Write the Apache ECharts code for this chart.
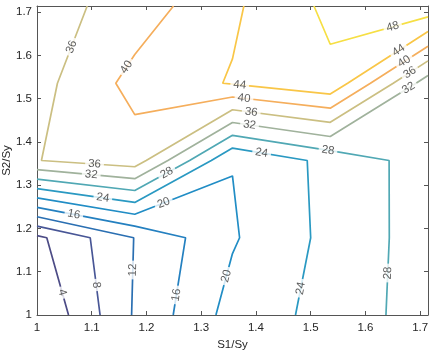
<!DOCTYPE html>
<html>
<head>
<meta charset="utf-8">
<script src="https://cdn.jsdelivr.net/npm/echarts@6/dist/echarts.min.js"></script>
<style>
html, body { margin: 0; background: #fff; }
#chart { width: 435px; height: 350px; }
</style>
</head>
<body>
<div id="chart"></div>
<script>
// grid nodes
const s1 = [1, 1.1786, 1.3571, 1.5357, 1.7143];
const s2 = [1, 1.1786, 1.3571, 1.5357, 1.7143];

// measured values, one row per S2/Sy node (bottom to top)
const zAtS2_100 = [0, 12.4, 21.55, 25.35, 30.0];
const zAtS2_118 = [3.1, 12.1, 19.6, 25.1, 29.9];
const zAtS2_136 = [35.9, 38.1, 20.1, 25.2, 29.85];
const zAtS2_154 = [34.6, 41.3, 44.3, 47.05, 29.9];
const zAtS2_171 = [34.1, 37.8, 43.35, 48.93, 50.96];

const levels = [4, 8, 12, 16, 20, 24, 28, 32, 36, 40, 44, 48];

const zRows = [zAtS2_100, zAtS2_118, zAtS2_136, zAtS2_154, zAtS2_171];

// colour of each contour level
const levelColors = {
	4: '#4d4c86', 8: '#485696', 12: '#2a6fb2', 16: '#2480c0',
	20: '#218dc5', 24: '#2a99c2', 28: '#50a8b4', 32: '#a0b29c',
	36: '#cbbf82', 40: '#f5ae5c', 44: '#f9c647', 48: '#f6df44',
};

// where the inline labels sit (level, near S1, near S2)
const labelSpots = [
	[36, 1.063, 1.620], [40, 1.166, 1.571], [44, 1.370, 1.528], [40, 1.378, 1.499],
	[36, 1.391, 1.466], [32, 1.388, 1.437], [28, 1.531, 1.376], [24, 1.410, 1.372],
	[48, 1.651, 1.661], [44, 1.662, 1.609], [40, 1.673, 1.582], [36, 1.684, 1.555],
	[32, 1.680, 1.522], [36, 1.105, 1.347], [32, 1.099, 1.324], [28, 1.239, 1.324],
	[24, 1.120, 1.268], [20, 1.233, 1.254], [16, 1.067, 1.230], [12, 1.175, 1.104],
	[8, 1.105, 1.069], [4, 1.041, 1.050], [16, 1.257, 1.046], [20, 1.349, 1.089],
	[24, 1.481, 1.062], [28, 1.642, 1.097],
];

// marching squares with linear interpolation, then chain segments into polylines
function contourLines(level) {
	const segs = [];
	const edgePoint = (i1, j1, i2, j2) => {
		const v1 = zRows[j1][i1], v2 = zRows[j2][i2];
		const t = (level - v1) / (v2 - v1);
		return [s1[i1] + (s1[i2] - s1[i1]) * t, s2[j1] + (s2[j2] - s2[j1]) * t];
	};
	for (let j = 0; j < s2.length - 1; j++) {
		for (let i = 0; i < s1.length - 1; i++) {
			const edges = [
				[i, j, i + 1, j, 'h' + i + '_' + j],
				[i + 1, j, i + 1, j + 1, 'v' + (i + 1) + '_' + j],
				[i, j + 1, i + 1, j + 1, 'h' + i + '_' + (j + 1)],
				[i, j, i, j + 1, 'v' + i + '_' + j],
			];
			const hits = edges
				.filter(e => (zRows[e[1]][e[0]] < level) !== (zRows[e[3]][e[2]] < level))
				.map(e => ({key: e[4], p: edgePoint(e[0], e[1], e[2], e[3])}));
			if (hits.length === 2) segs.push(hits);
			if (hits.length === 4) {
				segs.push([hits[0], hits[1]]);
				segs.push([hits[2], hits[3]]);
			}
		}
	}

	const byKey = {};
	segs.forEach((s, k) => s.forEach(h => (byKey[h.key] = byKey[h.key] || []).push(k)));
	const used = segs.map(() => false);
	const lines = [];
	while (true) {
		let start = -1, end = 0;
		for (let k = 0; k < segs.length && start < 0; k++) {
			if (used[k]) continue;
			for (let e = 0; e < 2; e++) {
				if (byKey[segs[k][e].key].length === 1) { start = k; end = e; break; }
			}
		}
		if (start < 0) start = used.indexOf(false);
		if (start < 0) break;
		used[start] = true;
		const line = [segs[start][end].p, segs[start][1 - end].p];
		let key = segs[start][1 - end].key;
		while (true) {
			const next = byKey[key].find(k => !used[k]);
			if (next === undefined) break;
			used[next] = true;
			const e = segs[next][0].key === key ? 1 : 0;
			line.push(segs[next][e].p);
			key = segs[next][e].key;
		}
		lines.push(line);
	}
	return lines;
}

const contours = {};
levels.forEach(lv => { contours[lv] = contourLines(lv); });

const font = 'Liberation Sans, Arial, Helvetica, sans-serif';
const axisColor = '#555';
const textColor = '#262626';

const commonAxis = {
	type: 'value',
	min: 1,
	max: 1.7143,
	interval: 0.1,
	axisLine: {show: true, onZero: false, lineStyle: {color: axisColor, width: 1}},
	axisTick: {show: true, inside: true, length: 4, lineStyle: {color: axisColor}},
	splitLine: {show: false},
};

const lineSeries = [];
levels.forEach(lv => {
	contours[lv].forEach(line => {
		lineSeries.push({
			type: 'line',
			data: line,
			showSymbol: false,
			symbol: 'none',
			silent: true,
			z: 2,
			lineStyle: {color: levelColors[lv], width: 1.7},
		});
	});
});

const chart = echarts.init(document.getElementById('chart'), null, {renderer: 'canvas'});
chart.setOption({
	animation: false,
	backgroundColor: '#fff',
	grid: {left: 37, right: 7, top: 6, bottom: 35, containLabel: false, outerBoundsMode: 'none'},
	xAxis: [
		{
			...commonAxis,
			position: 'bottom',
			name: 'S1/Sy',
			nameLocation: 'middle',
			nameGap: 24,
			nameMoveOverlap: false,
			nameTextStyle: {color: textColor, fontSize: 11.5, fontFamily: font},
			axisLabel: {color: textColor, fontSize: 11.5, fontFamily: font, margin: 7, showMaxLabel: false},
		},
		{...commonAxis, position: 'top', axisLabel: {show: false}},
	],
	yAxis: [
		{
			...commonAxis,
			position: 'left',
			name: 'S2/Sy',
			nameLocation: 'middle',
			nameGap: 24,
			nameMoveOverlap: false,
			nameTextStyle: {color: textColor, fontSize: 11.5, fontFamily: font},
			axisLabel: {color: textColor, fontSize: 11.5, fontFamily: font, margin: 5, showMaxLabel: false},
		},
		{...commonAxis, position: 'right', axisLabel: {show: false}},
	],
	series: lineSeries,
});

// snap each label onto its contour and turn it along the line
const px = p => chart.convertToPixel({gridIndex: 0}, p);
const labelData = labelSpots.map(([lv, ax, ay]) => {
	const target = px([ax, ay]);
	let best = null;
	contours[lv].forEach(line => {
		for (let k = 0; k < line.length - 1; k++) {
			const p = px(line[k]), q = px(line[k + 1]);
			const dx = q[0] - p[0], dy = q[1] - p[1];
			const len2 = dx * dx + dy * dy;
			let t = len2 ? ((target[0] - p[0]) * dx + (target[1] - p[1]) * dy) / len2 : 0;
			t = Math.max(0, Math.min(1, t));
			const cx = p[0] + dx * t, cy = p[1] + dy * t;
			const d = (cx - target[0]) ** 2 + (cy - target[1]) ** 2;
			if (!best || d < best.d) best = {d, cx, cy, dx, dy};
		}
	});
	let ang = Math.atan2(-best.dy, best.dx) * 180 / Math.PI;
	if (ang > 90) ang -= 180;
	if (ang < -90) ang += 180;
	return {
		name: String(lv),
		value: chart.convertFromPixel({gridIndex: 0}, [best.cx, best.cy]),
		label: {rotate: ang},
	};
});

chart.setOption({
	series: [...lineSeries, {
		type: 'scatter',
		data: labelData,
		symbolSize: 1,
		silent: true,
		z: 5,
		itemStyle: {color: 'rgba(0,0,0,0)'},
		label: {
			show: true,
			position: 'inside',
			formatter: '{b}',
			color: '#333',
			fontSize: 11.5,
			fontFamily: font,
			backgroundColor: '#fff',
			lineHeight: 10,
			padding: [0, 3],
		},
	}],
});
</script>
</body>
</html>
